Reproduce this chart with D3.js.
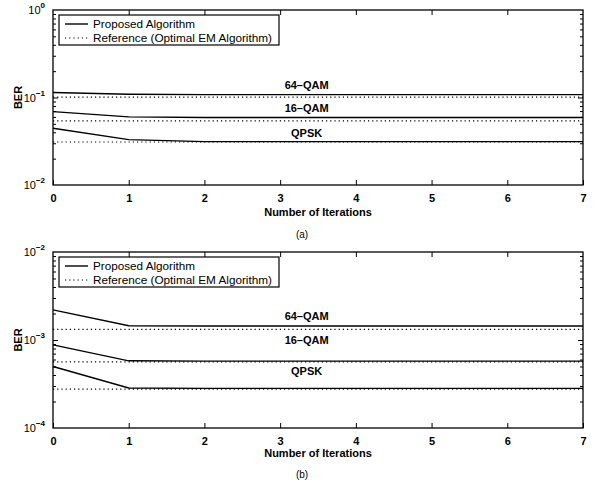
<!DOCTYPE html>
<html><head><meta charset="utf-8">
<script src="https://cdn.jsdelivr.net/npm/d3@7"></script>
<style>
body{margin:0;background:#fff;}
svg{font-family:"Liberation Sans",Arial,Helvetica,sans-serif;}
</style></head>
<body><svg id="c" width="594" height="489"></svg>
<script>
const iterations = [0,1,2,3,4,5,6,7];
const xTicks = [0,1,2,3,4,5,6,7];
// Panel (a)
const qam64PropA = [0.114,0.109,0.108,0.108,0.108,0.108,0.108,0.108];
const qam64RefA  = [0.101,0.101,0.101,0.101,0.101,0.101,0.101,0.101];
const qam16PropA = [0.069,0.060,0.059,0.059,0.059,0.059,0.059,0.059];
const qam16RefA  = [0.054,0.054,0.054,0.054,0.054,0.054,0.054,0.054];
const qpskPropA  = [0.0445,0.033,0.0313,0.0313,0.0313,0.0313,0.0313,0.0313];
const qpskRefA   = [0.031,0.031,0.031,0.031,0.031,0.031,0.031,0.031];
// Panel (b)
const qam64PropB = [0.0022,0.00145,0.00144,0.00144,0.00144,0.00144,0.00144,0.00144];
const qam64RefB  = [0.00132,0.00132,0.00132,0.00132,0.00132,0.00132,0.00132,0.00132];
const qam16PropB = [0.00088,0.00058,0.000575,0.000575,0.000575,0.000575,0.000575,0.000575];
const qam16RefB  = [0.000565,0.000565,0.000565,0.000565,0.000565,0.000565,0.000565,0.000565];
const qpskPropB  = [0.00050,0.000285,0.000282,0.000282,0.000282,0.000282,0.000282,0.000282];
const qpskRefB   = [0.000277,0.000277,0.000277,0.000277,0.000277,0.000277,0.000277,0.000277];

const labelsA = [{t:"64\u2013QAM",x:3.35,y:0.125},{t:"16\u2013QAM",x:3.35,y:0.0683},{t:"QPSK",x:3.35,y:0.0354}];
const labelsB = [{t:"64\u2013QAM",x:3.35,y:0.00169},{t:"16\u2013QAM",x:3.35,y:0.000901},{t:"QPSK",x:3.35,y:0.0004}];
const yDecA = [-2,-1,0];
const yDecB = [-4,-3,-2];
const legendItems = ["Proposed Algorithm","Reference (Optimal EM Algorithm)"];

const svg = d3.select("#c");

function panel(cfg){
  const {top,bottom,decs,props,refs,labels,caption,capY,titleOff} = cfg;
  const left=53,right=583;
  const x = d3.scaleLinear().domain([0,7]).range([left,right]);
  const y = d3.scaleLog().domain([Math.pow(10,decs[0]),Math.pow(10,decs[2])]).range([bottom,top]);
  const g = svg.append("g");
  g.append("rect").attr("x",left).attr("y",top).attr("width",right-left).attr("height",bottom-top)
    .attr("fill","none").attr("stroke","#000").attr("stroke-width",1.3);
  const xb = d3.axisBottom(x).tickValues(xTicks).tickSize(-5).tickFormat(d3.format("d")).tickPadding(9);
  const gx = g.append("g").attr("transform",`translate(0,${bottom})`).call(xb);
  gx.select(".domain").remove();
  gx.selectAll("text").attr("font-size",11).attr("font-weight","bold").attr("fill","#000").attr("font-family","Liberation Sans, Arial, sans-serif");
  const xt = d3.axisTop(x).tickValues(xTicks.slice(1,-1)).tickSize(-5).tickFormat("");
  const gxt = g.append("g").attr("transform",`translate(0,${top})`).call(xt);
  gxt.select(".domain").remove();
  const minors=[];
  for(let d=decs[0]; d<decs[2]; d++) for(let m=2;m<=9;m++) minors.push(m*Math.pow(10,d));
  const majors=decs.map(d=>Math.pow(10,d));
  const yl = d3.axisLeft(y).tickValues(minors).tickSize(-3).tickFormat("");
  const gyl = g.append("g").attr("transform",`translate(${left},0)`).call(yl); gyl.select(".domain").remove();
  const yr = d3.axisRight(y).tickValues(minors).tickSize(-3).tickFormat("");
  const gyr = g.append("g").attr("transform",`translate(${right},0)`).call(yr); gyr.select(".domain").remove();
  const ylM = d3.axisLeft(y).tickValues(majors.slice(1,-1)).tickSize(-5).tickFormat("");
  const g3 = g.append("g").attr("transform",`translate(${left},0)`).call(ylM); g3.select(".domain").remove();
  const yrM = d3.axisRight(y).tickValues(majors.slice(1,-1)).tickSize(-5).tickFormat("");
  const g4 = g.append("g").attr("transform",`translate(${right},0)`).call(yrM); g4.select(".domain").remove();
  g.selectAll(".tick line").attr("stroke","#000").attr("stroke-width",1);
  decs.forEach(d=>{
    const t = g.append("text").attr("x",left-8).attr("y",y(Math.pow(10,d))+4)
      .attr("text-anchor","end").attr("font-size",11).attr("fill","#000");
    t.append("tspan").text("10");
    t.append("tspan").attr("dy",-6).attr("font-size",8).attr("font-weight","bold").text(d===0?"0":"\u2212"+Math.abs(d));
  });
  g.append("text").attr("transform",`translate(22,${(top+bottom)/2}) rotate(-90)`)
    .attr("text-anchor","middle").attr("font-size",11).attr("font-weight","bold").text("BER");
  const line = d3.line().x((d,i)=>x(iterations[i])).y(d=>y(d));
  props.forEach(p=>g.append("path").datum(p).attr("d",line).attr("fill","none").attr("stroke","#000").attr("stroke-width",1.4));
  refs.forEach(p=>g.append("path").datum(p).attr("d",line).attr("fill","none").attr("stroke","#000").attr("stroke-width",1.2).attr("stroke-dasharray","1.2,3"));
  labels.forEach(l=>g.append("text").attr("x",x(l.x)).attr("y",y(l.y)).attr("text-anchor","middle")
    .attr("font-size",11).attr("font-weight","bold").text(l.t));
  const lx=59, ly=top+5;
  g.append("rect").attr("x",lx).attr("y",ly).attr("width",220).attr("height",30).attr("fill","#fff").attr("stroke","#000").attr("stroke-width",1.2);
  legendItems.forEach((t,i)=>{
    const yy = ly+9+i*14;
    g.append("line").attr("x1",lx+6).attr("x2",lx+29).attr("y1",yy).attr("y2",yy).attr("stroke","#000")
      .attr("stroke-width",i===0?1.4:1.2).attr("stroke-dasharray",i===0?null:"1.2,3");
    g.append("text").attr("x",lx+34).attr("y",yy+4).attr("font-size",11.5).attr("textLength",i===0?102:179).attr("lengthAdjust","spacingAndGlyphs").text(t);
  });
  g.append("text").attr("x",(left+right)/2).attr("y",bottom+titleOff).attr("text-anchor","middle")
    .attr("font-size",11).attr("font-weight","bold").text("Number of Iterations");
  g.append("text").attr("x",(left+right)/2-16).attr("y",capY).attr("text-anchor","middle")
    .attr("font-size",10).text(caption);
}
panel({top:10,bottom:185,decs:yDecA,props:[qam64PropA,qam16PropA,qpskPropA],refs:[qam64RefA,qam16RefA,qpskRefA],labels:labelsA,caption:"(a)",capY:238,titleOff:31});
panel({top:252,bottom:428,decs:yDecB,props:[qam64PropB,qam16PropB,qpskPropB],refs:[qam64RefB,qam16RefB,qpskRefB],labels:labelsB,caption:"(b)",capY:478,titleOff:29});
</script></body></html>
